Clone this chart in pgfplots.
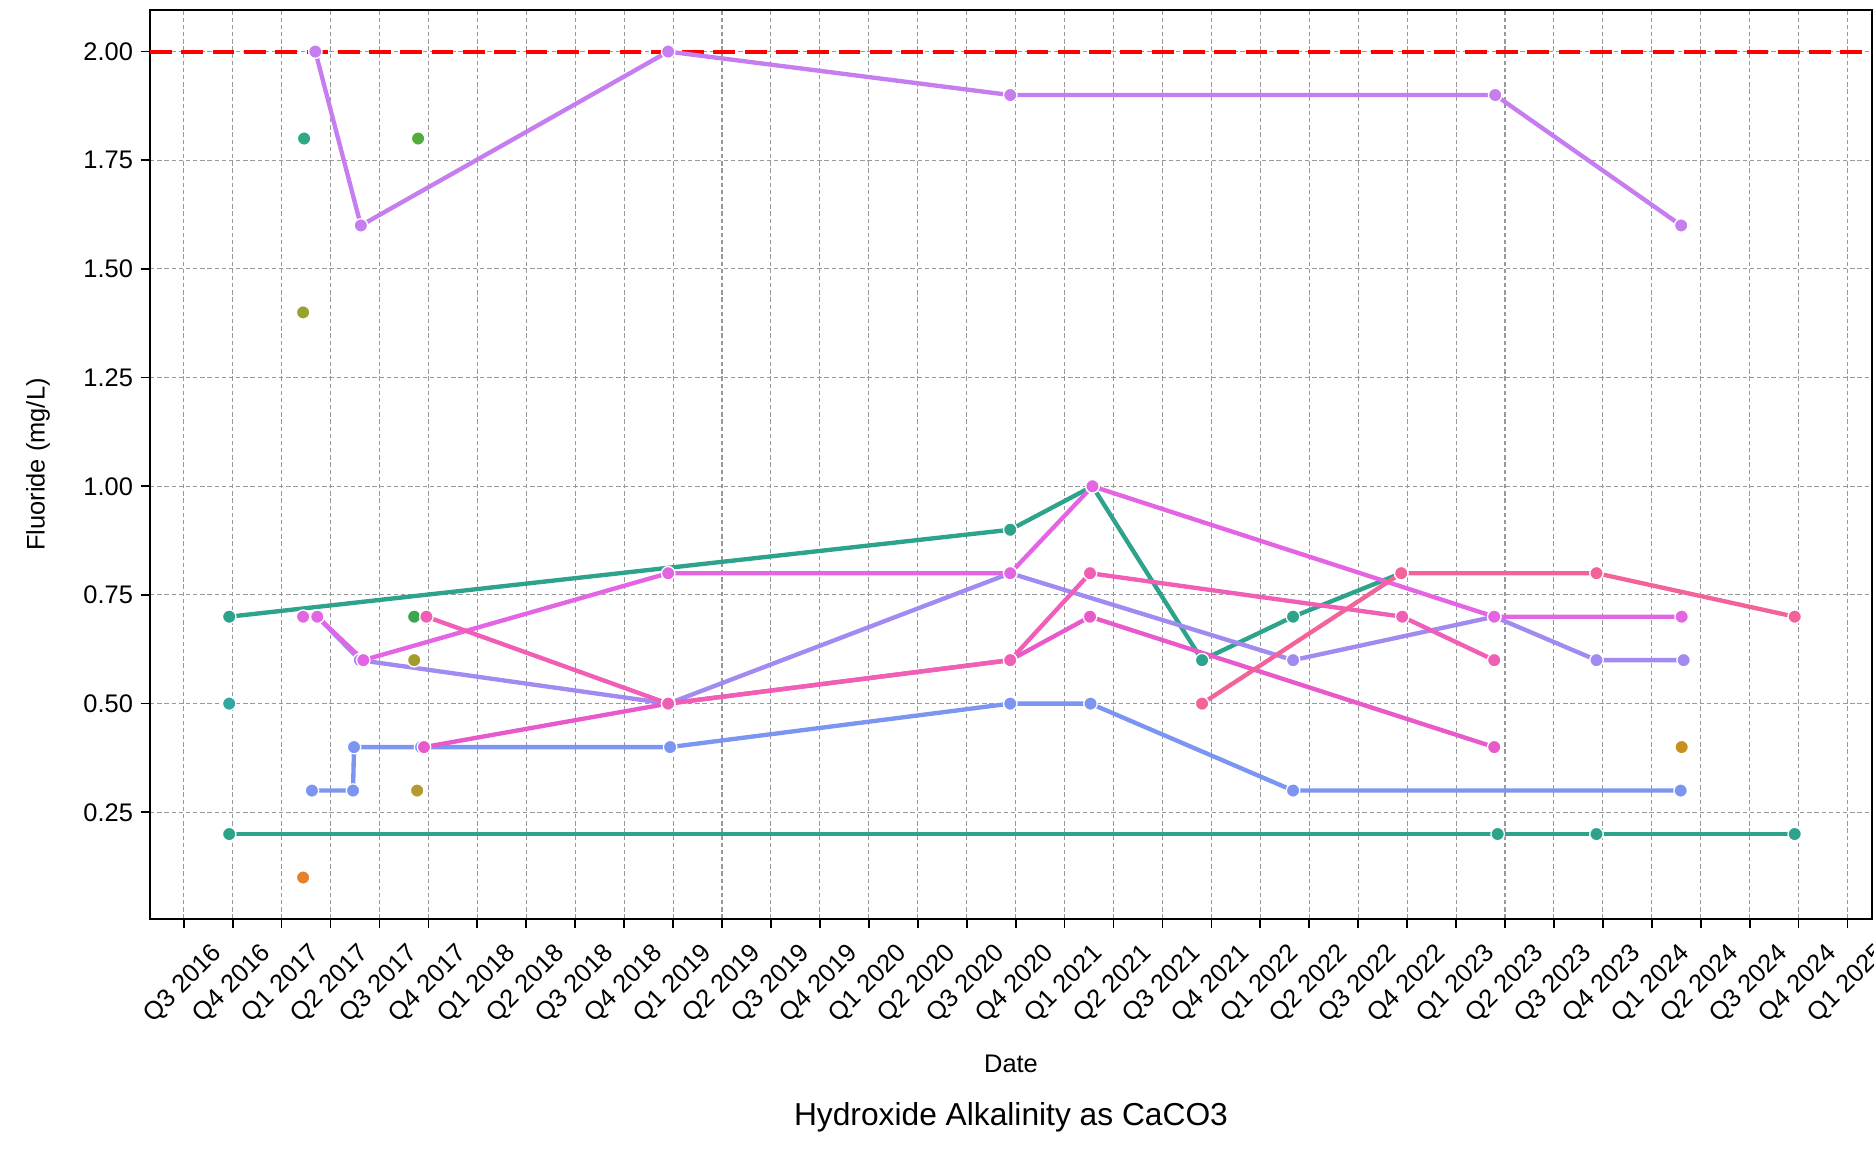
\documentclass[border=0pt]{standalone}
\usepackage{fontspec}
\setmainfont{Liberation Sans}
\usepackage{pgfplots}
\pgfplotsset{compat=1.18}
\definecolor{cOrange}{HTML}{E5812C}
\definecolor{cOliveA}{HTML}{98A22F}
\definecolor{cOliveB}{HTML}{A39B2A}
\definecolor{cGoldA}{HTML}{B59A30}
\definecolor{cGoldB}{HTML}{C98F1F}
\definecolor{cGreenA}{HTML}{52AB3A}
\definecolor{cGreenB}{HTML}{3CA550}
\definecolor{cTealS}{HTML}{30A785}
\definecolor{cCyan}{HTML}{32A6A0}
\definecolor{cTeal}{HTML}{2EA38B}
\definecolor{cBlue}{HTML}{7B95F0}
\definecolor{cLav}{HTML}{A28BF0}
\definecolor{cPurple}{HTML}{C67DF0}
\definecolor{cMag}{HTML}{E465E4}
\definecolor{cMP}{HTML}{E85ACB}
\definecolor{cPink}{HTML}{F05EB5}
\definecolor{cPR}{HTML}{F2639A}
\pgfplotsset{
  ser/.style={line width=2.0pt, color=#1, line join=round, mark=*, mark size=3.1pt,
    mark options={fill=#1, draw=white, line width=0.6pt, solid}},
  pt/.style={only marks, mark=*, mark size=3.1pt,
    mark options={fill=#1, draw=white, line width=0.6pt}},
}
\begin{document}
\begin{tikzpicture}
\begin{axis}[
  scale only axis, width=792.1pt, height=417.9pt,
  xmin=-0.689, xmax=34.5, ymin=0.005, ymax=2.095,
  xtick={0,1,...,34},
  xticklabels={Q3 2016,Q4 2016,Q1 2017,Q2 2017,Q3 2017,Q4 2017,Q1 2018,Q2 2018,Q3 2018,Q4 2018,Q1 2019,Q2 2019,Q3 2019,Q4 2019,Q1 2020,Q2 2020,Q3 2020,Q4 2020,Q1 2021,Q2 2021,Q3 2021,Q4 2021,Q1 2022,Q2 2022,Q3 2022,Q4 2022,Q1 2023,Q2 2023,Q3 2023,Q4 2023,Q1 2024,Q2 2024,Q3 2024,Q4 2024,Q1 2025},
  ytick={0.25,0.5,0.75,1,1.25,1.5,1.75,2},
  /pgf/number format/assume math mode=true,
  yticklabel style={/pgf/number format/.cd, fixed, fixed zerofill, precision=2},
  ticklabel style={font=\fontsize{11.7}{14}\selectfont},
  x tick label style={yshift=-26pt, rotate=45, anchor=center},
  tick align=outside, tick pos=left, major tick length=4.3pt,
  every tick/.style={black, line width=0.8pt},
  axis line style={black, line width=0.9pt},
  grid=major,
  major grid style={gray!80, line width=0.5pt, dash pattern=on 2pt off 1.3pt},
  xlabel={Date}, ylabel={Fluoride (mg/L)},
  label style={font=\fontsize{11.7}{14}\selectfont},
  xlabel style={at={(axis description cs:0.5,-0.1596)}, anchor=center},
  ylabel style={at={(axis description cs:-0.065,0.5)}, anchor=center},
  title={Hydroxide Alkalinity as CaCO3},
  title style={at={(axis description cs:0.5,-0.233)}, anchor=center, yshift=0pt, font=\fontsize{14.6}{17}\selectfont},
]
\coordinate (bl) at (rel axis cs:0,0);
\coordinate (tr) at (rel axis cs:1,1);
\addplot[red, line width=1.9pt, dash pattern=on 10pt off 4.4pt] coordinates {(-0.689,2) (34.5,2)};
% single points
\addplot[pt=cOrange] coordinates {(2.44,0.10)};
\addplot[pt=cOliveA] coordinates {(2.44,1.40)};
\addplot[pt=cOliveB] coordinates {(4.71,0.60)};
\addplot[pt=cGoldA] coordinates {(4.77,0.30)};
\addplot[pt=cGoldB] coordinates {(30.61,0.40)};
\addplot[pt=cGreenA] coordinates {(4.79,1.80)};
\addplot[pt=cGreenB] coordinates {(4.71,0.70)};
\addplot[pt=cTealS] coordinates {(2.46,1.80)};
\addplot[pt=cCyan] coordinates {(0.93,0.50)};
% lines
\addplot[ser=cTeal] coordinates {(0.93,0.70) (16.89,0.90) (18.57,1.00) (20.81,0.60) (22.67,0.70) (24.88,0.80)};
\addplot[ser=cTeal] coordinates {(0.93,0.20) (26.85,0.20) (28.87,0.20) (32.92,0.20)};
\addplot[ser=cBlue] coordinates {(2.62,0.30) (3.46,0.30) (3.48,0.40) (4.85,0.40) (9.94,0.40) (16.89,0.50) (18.53,0.50) (22.67,0.30) (30.59,0.30)};
\addplot[ser=cLav] coordinates {(2.73,0.70) (3.60,0.60) (9.90,0.50) (16.89,0.80) (22.67,0.60) (26.78,0.70) (28.87,0.60) (30.65,0.60)};
\addplot[ser=cPurple] coordinates {(2.69,2.00) (3.62,1.60) (9.90,2.00) (16.89,1.90) (26.80,1.90) (30.60,1.60)};
\addplot[ser=cMag] coordinates {(2.44,0.70) (2.73,0.70) (3.67,0.60) (9.90,0.80) (16.89,0.80) (18.57,1.00) (26.78,0.70) (30.61,0.70)};
\addplot[ser=cMP] coordinates {(4.91,0.40) (9.90,0.50) (16.89,0.60) (18.52,0.70) (26.78,0.40)};
\addplot[ser=cPink] coordinates {(4.96,0.70) (9.90,0.50) (16.89,0.60) (18.52,0.80) (24.90,0.70) (26.78,0.60)};
\addplot[ser=cPR] coordinates {(20.81,0.50) (24.88,0.80) (28.87,0.80) (32.92,0.70)};
\end{axis}
\pgfresetboundingbox
\path[use as bounding box] ([xshift=-69pt,yshift=-109.16pt]bl) rectangle ([xshift=0.92pt,yshift=4.74pt]tr);
\end{tikzpicture}
\end{document}
